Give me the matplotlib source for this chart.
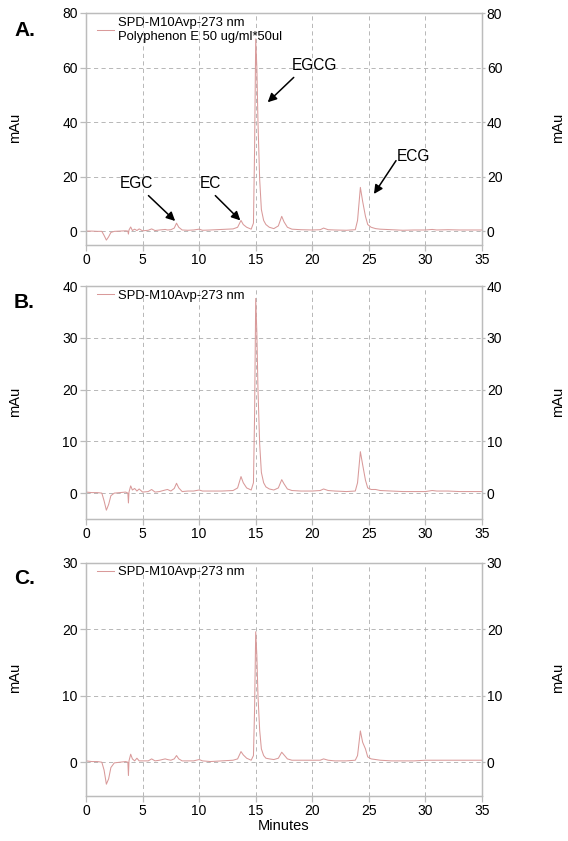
import matplotlib
matplotlib.use("Agg")
import matplotlib.pyplot as plt

plt.rcParams['font.family'] = ['Liberation Sans', 'DejaVu Sans']

minutes = [0, 0.5, 1.0, 1.4, 1.6, 1.8, 2.0, 2.2, 2.5, 3.0, 3.5, 3.7, 3.75, 3.8, 3.95, 4.1, 4.3, 4.5, 4.7,
           5.0, 5.5, 5.8, 6.1, 6.5, 7.0, 7.2, 7.5, 7.8, 8.0, 8.2, 8.5, 9.0, 9.5, 10.0, 10.3, 11.0, 12.0,
           13.0, 13.4, 13.7, 13.9, 14.2, 14.6, 14.8, 14.9, 15.0, 15.1, 15.2, 15.35, 15.5, 15.7, 15.9,
           16.2, 16.6, 17.0, 17.3, 17.5, 17.8, 18.2, 19.0, 20.0, 20.7, 21.0, 21.4, 22.0, 23.0, 23.8,
           24.0, 24.25, 24.45, 24.7, 24.9, 25.2, 25.6, 26.0, 27.0, 28.0, 29.0, 30.0, 30.6, 31.0, 32.0,
           33.0, 34.0, 35.0]

signal_a = [0.1, 0.1, 0.0, 0.0, -1.5, -3.2, -2.0, -0.4, 0.0, 0.1, 0.2, 0.1, -1.0, 0.5, 1.6, 0.3, 0.8, 0.3, 0.9,
            0.2, 0.4, 0.9, 0.3, 0.5, 0.7, 0.5, 0.6, 1.2, 3.0, 1.5, 0.5, 0.4, 0.5, 0.8, 0.4, 0.5, 0.7,
            0.9, 1.5, 4.0, 2.5, 1.5, 0.8, 3.0, 30.0, 70.5, 60.0, 40.0, 19.0, 8.0, 4.0, 2.5,
            1.5, 1.0, 2.0, 5.5, 3.5, 1.5, 0.8, 0.6, 0.5, 0.6, 1.2, 0.6, 0.5, 0.4, 0.6,
            4.0, 16.1, 11.0, 5.5, 2.5, 1.5, 1.0, 0.8, 0.6, 0.4, 0.5, 0.5, 0.7, 0.5, 0.6,
            0.5, 0.5, 0.5]

signal_b = [0.2, 0.1, 0.1, 0.0, -1.5, -3.3, -2.2, -0.5, 0.0, 0.1, 0.2, 0.0, -1.9, 0.2, 1.4, 0.6, 0.9, 0.4, 0.8,
            0.2, 0.3, 0.7, 0.2, 0.3, 0.6, 0.7, 0.4, 0.9, 1.9, 1.0, 0.3, 0.4, 0.4, 0.6, 0.4, 0.4, 0.4,
            0.5, 1.0, 3.2, 2.0, 1.0, 0.6, 2.0, 15.0, 37.6, 31.0, 20.0, 9.5, 4.0, 2.0, 1.2,
            0.8, 0.6, 1.0, 2.6, 1.8, 0.8, 0.5, 0.4, 0.4, 0.5, 0.8, 0.5, 0.4, 0.3, 0.4,
            2.0, 8.0, 5.5, 2.5, 1.0, 0.7, 0.7, 0.5, 0.4, 0.3, 0.3, 0.3, 0.5, 0.4, 0.4,
            0.3, 0.3, 0.3]

signal_c = [0.2, 0.1, 0.1, 0.0, -1.2, -3.3, -2.5, -0.8, -0.1, 0.0, 0.1, 0.0, -2.0, 0.2, 1.2, 0.5, 0.2, 0.6, 0.2,
            0.2, 0.2, 0.5, 0.2, 0.3, 0.5, 0.4, 0.3, 0.5, 1.0, 0.5, 0.2, 0.2, 0.2, 0.4, 0.2, 0.1, 0.2,
            0.3, 0.5, 1.6, 1.1, 0.6, 0.3, 1.0, 8.0, 19.6, 16.0, 10.0, 4.8, 2.0, 1.0, 0.6,
            0.5, 0.4, 0.6, 1.5, 1.1, 0.5, 0.3, 0.3, 0.3, 0.3, 0.5, 0.3, 0.2, 0.2, 0.3,
            1.0, 4.7, 3.0, 2.0, 0.8, 0.5, 0.4, 0.3, 0.2, 0.2, 0.2, 0.3, 0.3, 0.3, 0.3,
            0.3, 0.3, 0.3]

panel_letters = ["A.", "B.", "C."]
legend_labels = ["SPD-M10Avp-273 nm\nPolyphenon E 50 ug/ml*50ul", "SPD-M10Avp-273 nm", "SPD-M10Avp-273 nm"]
y_tops = [80, 40, 30]
y_tick_steps = [20, 10, 10]
x_ticks = [0, 5, 10, 15, 20, 25, 30, 35]

peak_names = ["EGC", "EC", "EGCG", "ECG"]
peak_text_xy = [(4.5, 17.5), (11.0, 17.5), (20.2, 60.6), (28.9, 27.3)]
arrow_tail_xy = [(5.52, 13.1), (11.43, 13.1), (18.36, 56.4), (27.4, 25.9)]
arrow_head_xy = [(7.88, 3.8), (13.64, 4.0), (16.06, 47.3), (25.45, 13.7)]

fig = plt.figure(figsize=(5.68, 8.41), dpi=100)
W, H = 568, 841
boxes = [(13, 245), (286, 519), (562.5, 795.5)]
letter_offsets = [17, 16, 16]
left_px, right_px = 86, 482

line_color = '#d99a9a'
spine_color = '#bcbcbc'
grid_color = '#acacac'
signals = [signal_a, signal_b, signal_c]

for i in range(3):
    top, bot = boxes[i]
    ax = fig.add_axes([left_px / W, 1 - bot / H, (right_px - left_px) / W, (bot - top) / H])
    ax.plot(minutes, signals[i], color=line_color, lw=0.75, label=legend_labels[i])
    ax.set_xlim(0, 35)
    ax.set_ylim(-5, y_tops[i])
    yt = list(range(0, y_tops[i] + 1, y_tick_steps[i]))
    ax.set_yticks(yt)
    ax.set_xticks(x_ticks)
    ax.grid(True, linestyle=(0, (5, 4)), color=grid_color, lw=0.6)
    for s in ax.spines.values():
        s.set_color(spine_color)
        s.set_linewidth(0.9)
    ax.tick_params(axis='y', colors=spine_color, labelcolor='black', labelsize=10, length=4.5, width=0.9, pad=1.5)
    ax.tick_params(axis='x', colors=spine_color, labelcolor='black', labelsize=10, length=4, width=0.9, pad=2)
    ax.set_axisbelow(True)
    ax2 = ax.twinx()
    ax2.set_ylim(-5, y_tops[i])
    ax2.set_yticks(yt)
    ax2.tick_params(axis='y', colors=spine_color, labelcolor='black', labelsize=10, length=2.5, width=0.9, pad=1)
    for s in ax2.spines.values():
        s.set_color(spine_color)
        s.set_linewidth(0.9)
    leg = ax.legend(loc='upper left', bbox_to_anchor=(0.022, 0.995), frameon=False, fontsize=9.4,
                    handlelength=1.25, handletextpad=0.3, borderaxespad=0.1, borderpad=0.1,
                    labelspacing=0.2)
    for t in leg.get_texts():
        t.set_linespacing(1.2)
    fig.text(15 / W, 1 - ((top + bot) / 2 - 1) / H, "mAu", rotation=90, ha='center', va='center', fontsize=10.5)
    fig.text(558 / W, 1 - ((top + bot) / 2 - 1) / H, "mAu", rotation=90, ha='center', va='center', fontsize=10.5)
    fig.text(14 / W, 1 - (top + letter_offsets[i]) / H, panel_letters[i], fontsize=15, fontweight='bold',
             ha='left', va='center')
    if i == 0:
        for name, txy, t0, h0 in zip(peak_names, peak_text_xy, arrow_tail_xy, arrow_head_xy):
            ax.text(txy[0], txy[1], name, fontsize=11.2, ha='center', va='center')
            ax.annotate("", xy=h0, xytext=t0,
                        arrowprops=dict(arrowstyle='-|>', color='black', lw=1.1,
                                        mutation_scale=13, shrinkA=0, shrinkB=0))
    if i == 2:
        ax.set_xlabel("Minutes", fontsize=10.5, labelpad=1)

fig.savefig("out.png", dpi=100)
